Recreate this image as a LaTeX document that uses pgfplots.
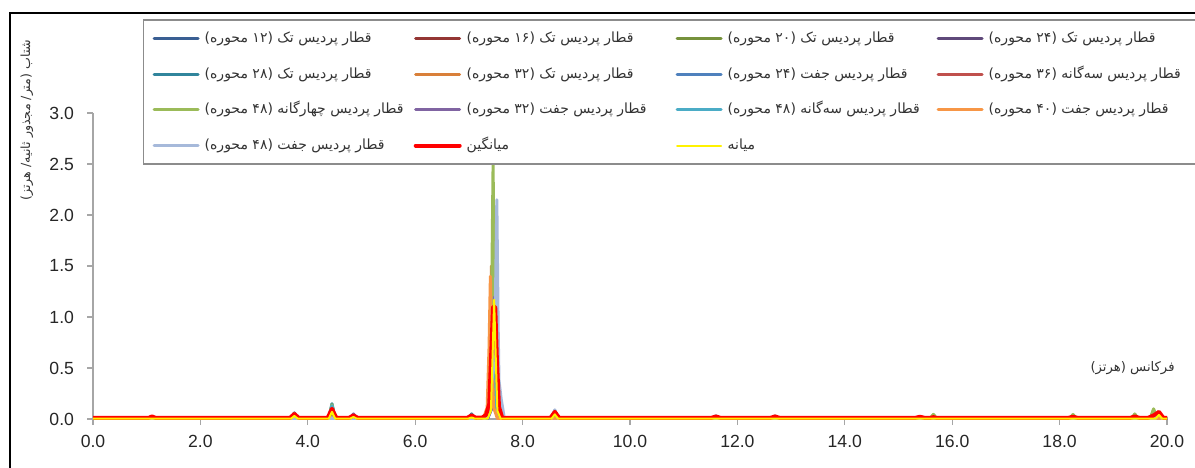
\documentclass[border=0pt]{standalone}
\usepackage{fontspec}
\setmainfont{Liberation Sans}
\newfontfamily\ar[Script=Arabic]{DejaVu Sans}
\TeXXeTstate=1
\usepackage{pgfplots}
\pgfplotsset{compat=1.18}
\definecolor{c1}{HTML}{3A5F93}
\definecolor{c2}{HTML}{943634}
\definecolor{c3}{HTML}{76923C}
\definecolor{c4}{HTML}{5F497A}
\definecolor{c5}{HTML}{31859C}
\definecolor{c6}{HTML}{D9803A}
\definecolor{c7}{HTML}{4F81BD}
\definecolor{c8}{HTML}{C0504D}
\definecolor{c9}{HTML}{9BBB59}
\definecolor{c10}{HTML}{8064A2}
\definecolor{c11}{HTML}{4BACC6}
\definecolor{c12}{HTML}{F79646}
\definecolor{c13}{HTML}{A6B9DA}
\definecolor{axgray}{HTML}{A6A6A6}
\newcommand{\lgd}[2]{\makebox[#1][l]{\ar\fontsize{7}{8}\selectfont #2}}
\begin{document}
\begin{tikzpicture}
\path[use as bounding box] (0pt,0pt) rectangle (597.5pt,233.5pt);
\draw[line width=1.1pt] (4.9pt,-10pt) -- (4.9pt,227pt) -- (620pt,227pt);
\node[rotate=90, inner sep=0pt, font=\ar\fontsize{6.3}{7}\selectfont, text=black!80] at (13.5pt,173.5pt) {\beginR شتاب (متر/ مجذور ثانیه/ هرتز)\endR};
\node[anchor=east, inner sep=0pt, font=\ar\fontsize{6.6}{8}\selectfont, text=black!80] at (587.5pt,49.5pt) {\beginR فرکانس (هرتز)\endR};
\begin{axis}[
  at={(46.5pt,24pt)}, anchor=south west,
  scale only axis, width=537pt, height=153pt,
  xmin=0, xmax=20, ymin=0, ymax=3,
  axis lines=left, axis line style={-, draw=axgray, line width=0.7pt},
  xtick={0,2,...,20}, ytick={0,0.5,...,3},
  tick align=outside, major tick length=3pt,
  tick style={draw=axgray, line width=0.6pt},
  minor tick num=0,
  xticklabel style={/pgf/number format/.cd, fixed, fixed zerofill, precision=1, /tikz/.cd, yshift=-1.5pt},
  yticklabel style={/pgf/number format/.cd, fixed, fixed zerofill, precision=1, /tikz/.cd, xshift=-3pt},
  /pgf/number format/assume math mode=true,
  ticklabel style={font=\fontsize{8.8}{10}\selectfont, text=black!85},
  clip=false,
  legend columns=4,
  legend cell align=left,
  legend image code/.code={\draw[#1, line cap=round] (1pt,0pt) -- (23pt,0pt);},
  legend style={at={(0.04655,1.3056)}, anchor=north west, draw=black!45, line width=0.7pt,
     inner xsep=4.5pt, inner ysep=4.3pt, row sep=7.8pt,
     nodes={inner sep=0pt, text height=7pt, text depth=3pt, text=black!80},
     /tikz/every odd column/.append style={column sep=2.5pt},
     /tikz/every even column/.append style={column sep=4.5pt}},
  every axis plot/.append style={line join=round, line width=1.5pt},
]
\addplot[c1] coordinates {(0,0.006)(1.04,0.006)(1.1,0.015)(1.16,0.006)(3.69,0.006)(3.75,0.05)(3.81,0.006)(4.39,0.006)(4.45,0.08)(4.51,0.006)(4.79,0.006)(4.85,0.04)(4.91,0.006)(7.32,0.006)(7.39,0.076)(7.425,0.475)(7.45,0.95)(7.475,0.475)(7.51,0.076)(7.58,0.006)(8.54,0.006)(8.6,0.07)(8.66,0.006)(11.54,0.006)(11.6,0.03)(11.66,0.006)(20,0.006)};
\addlegendentry{\lgd{100pt}{\beginR قطار پردیس تک (۱۲ محوره)\endR}}
\addplot[c2] coordinates {(0,0.006)(4.39,0.006)(4.45,0.09)(4.51,0.006)(7.31,0.006)(7.38,0.084)(7.415,0.525)(7.44,1.05)(7.465,0.525)(7.5,0.084)(7.57,0.006)(8.54,0.006)(8.6,0.06)(8.66,0.006)(12.64,0.006)(12.7,0.03)(12.76,0.006)(20,0.006)};
\addlegendentry{\lgd{100pt}{\beginR قطار پردیس تک (۱۶ محوره)\endR}}
\addplot[c3] coordinates {(0,0.006)(4.39,0.006)(4.45,0.12)(4.51,0.006)(7.32,0.006)(7.39,0.1)(7.425,0.625)(7.45,1.25)(7.475,0.625)(7.51,0.1)(7.58,0.006)(15.59,0.006)(15.65,0.04)(15.71,0.006)(19.69,0.006)(19.75,0.09)(19.81,0.006)(20,0.006)};
\addlegendentry{\lgd{100pt}{\beginR قطار پردیس تک (۲۰ محوره)\endR}}
\addplot[c4] coordinates {(0,0.006)(3.69,0.006)(3.75,0.06)(3.81,0.006)(7.33,0.006)(7.4,0.092)(7.435,0.575)(7.46,1.15)(7.485,0.575)(7.52,0.092)(7.59,0.006)(8.54,0.006)(8.6,0.07)(8.66,0.006)(20,0.006)};
\addlegendentry{\lgd{150pt}{\beginR قطار پردیس تک (۲۴ محوره)\endR}}
\addplot[c5] coordinates {(0,0.006)(4.39,0.006)(4.45,0.15)(4.51,0.006)(6.99,0.006)(7.05,0.05)(7.11,0.006)(7.32,0.006)(7.39,0.088)(7.425,0.55)(7.45,1.1)(7.475,0.55)(7.51,0.088)(7.58,0.006)(20,0.006)};
\addlegendentry{\lgd{100pt}{\beginR قطار پردیس تک (۲۸ محوره)\endR}}
\addplot[c6] coordinates {(0,0.006)(4.39,0.006)(4.45,0.1)(4.51,0.006)(7.29,0.006)(7.36,0.12)(7.395,0.75)(7.42,1.5)(7.445,0.75)(7.48,0.12)(7.55,0.006)(20,0.006)};
\addlegendentry{\lgd{100pt}{\beginR قطار پردیس تک (۳۲ محوره)\endR}}
\addplot[c7] coordinates {(0,0.006)(6.99,0.006)(7.05,0.04)(7.11,0.006)(7.35,0.006)(7.42,0.1)(7.47,0.3)(7.5,0.4)(7.54,0.3)(7.58,0.05)(7.64,0.006)(8.54,0.006)(8.6,0.08)(8.66,0.006)(20,0.006)};
\addlegendentry{\lgd{100pt}{\beginR قطار پردیس جفت (۲۴ محوره)\endR}}
\addplot[c8] coordinates {(0,0.006)(7.32,0.006)(7.39,0.08)(7.425,0.5)(7.45,1.0)(7.475,0.5)(7.51,0.08)(7.58,0.006)(19.79,0.006)(19.85,0.06)(19.91,0.006)(20,0.006)};
\addlegendentry{\lgd{150pt}{\beginR قطار پردیس سه‌گانه (۳۶ محوره)\endR}}
\addplot[c9] coordinates {(0,0.006)(4.39,0.006)(4.45,0.14)(4.51,0.006)(7.32,0.006)(7.39,0.2)(7.425,1.245)(7.45,2.49)(7.475,1.245)(7.51,0.2)(7.58,0.006)(15.59,0.006)(15.65,0.045)(15.71,0.006)(18.19,0.006)(18.25,0.045)(18.31,0.006)(19.34,0.006)(19.4,0.05)(19.46,0.006)(19.69,0.006)(19.75,0.1)(19.81,0.006)(20,0.006)};
\addlegendentry{\lgd{100pt}{\beginR قطار پردیس چهارگانه (۴۸ محوره)\endR}}
\addplot[c10] coordinates {(0,0.006)(4.79,0.006)(4.85,0.05)(4.91,0.006)(7.35,0.006)(7.42,0.096)(7.455,0.6)(7.48,1.2)(7.505,0.6)(7.54,0.096)(7.61,0.006)(20,0.006)};
\addlegendentry{\lgd{100pt}{\beginR قطار پردیس جفت (۳۲ محوره)\endR}}
\addplot[c11] coordinates {(0,0.006)(4.39,0.006)(4.45,0.13)(4.51,0.006)(7.32,0.006)(7.39,0.072)(7.425,0.45)(7.45,0.9)(7.475,0.45)(7.51,0.072)(7.58,0.006)(8.54,0.006)(8.6,0.08)(8.66,0.006)(20,0.006)};
\addlegendentry{\lgd{100pt}{\beginR قطار پردیس سه‌گانه (۴۸ محوره)\endR}}
\addplot[c12] coordinates {(0,0.006)(3.69,0.006)(3.75,0.05)(3.81,0.006)(7.27,0.006)(7.34,0.112)(7.375,0.7)(7.4,1.4)(7.425,0.7)(7.46,0.112)(7.53,0.006)(20,0.006)};
\addlegendentry{\lgd{150pt}{\beginR قطار پردیس جفت (۴۰ محوره)\endR}}
\addplot[c13] coordinates {(0,0.006)(7.3,0.006)(7.36,0.08)(7.4,0.28)(7.46,0.5)(7.495,1.2)(7.52,2.15)(7.545,0.9)(7.56,0.38)(7.6,0.2)(7.66,0.006)(8.54,0.006)(8.6,0.09)(8.66,0.006)(19.79,0.006)(19.85,0.07)(19.91,0.006)(20,0.006)};
\addlegendentry{\lgd{100pt}{\beginR قطار پردیس جفت (۴۸ محوره)\endR}}
\addplot[red, line width=2pt] coordinates {(0,0.012)(1.04,0.012)(1.1,0.025)(1.16,0.012)(3.67,0.012)(3.75,0.05)(3.83,0.012)(4.37,0.012)(4.45,0.1)(4.53,0.012)(4.77,0.012)(4.85,0.035)(4.93,0.012)(6.97,0.012)(7.05,0.035)(7.13,0.012)(7.25,0.015)(7.32,0.04)(7.38,0.15)(7.42,0.7)(7.45,1.1)(7.49,1.1)(7.52,0.6)(7.56,0.12)(7.62,0.012)(8.52,0.012)(8.6,0.07)(8.68,0.012)(11.52,0.012)(11.6,0.025)(11.68,0.012)(12.62,0.012)(12.7,0.025)(12.78,0.012)(15.32,0.012)(15.4,0.022)(15.48,0.012)(15.6,0.012)(15.65,0.018)(15.7,0.012)(18.17,0.012)(18.25,0.022)(18.33,0.012)(19.32,0.012)(19.4,0.025)(19.48,0.012)(19.65,0.012)(19.75,0.035)(19.85,0.07)(19.93,0.012)(20,0.012)};
\addlegendentry{\lgd{100pt}{\beginR میانگین\endR}}
\addplot[yellow, line width=1pt] coordinates {(0,0.004)(3.69,0.004)(3.75,0.03)(3.81,0.004)(4.39,0.004)(4.45,0.07)(4.51,0.004)(4.79,0.004)(4.85,0.02)(4.91,0.004)(6.99,0.004)(7.05,0.015)(7.11,0.004)(7.35,0.004)(7.41,0.08)(7.44,0.6)(7.47,1.17)(7.5,0.6)(7.53,0.08)(7.59,0.004)(8.54,0.004)(8.6,0.045)(8.66,0.004)(19.79,0.004)(19.85,0.04)(19.91,0.004)(20,0.004)};
\addlegendentry{\lgd{100pt}{\beginR میانه\endR}}
\end{axis}
\end{tikzpicture}
\end{document}
